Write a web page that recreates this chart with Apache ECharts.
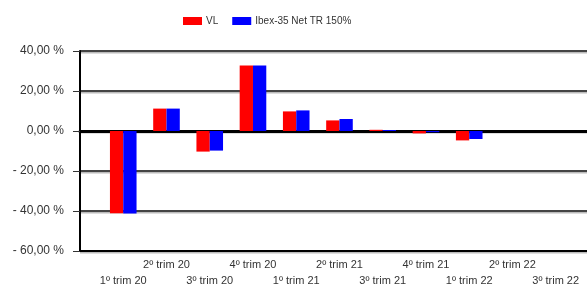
<!DOCTYPE html>
<html><head><meta charset="utf-8">
<script src="https://cdn.jsdelivr.net/npm/echarts@6/dist/echarts.min.js"></script>
<style>html,body{margin:0;padding:0;background:#fff;}#c{width:587px;height:284px;}</style>
</head><body><div id="c"></div>
<script>
var categories = ['1º trim 20','2º trim 20','3º trim 20','4º trim 20','1º trim 21','2º trim 21','3º trim 21','4º trim 21','1º trim 22','2º trim 22','3º trim 22'];
var vlValues = [-41.1, 11.2, -10.3, 32.8, 9.8, 5.3, 0.6, -1.2, -4.7, null, null];
var ibexValues = [-41.3, 11.2, -9.8, 32.8, 10.3, 6.0, 0.5, -0.6, -4.0, null, null];
var yTicks = [-60, -40, -20, 0, 20, 40];
var seriesNames = ['VL', 'Ibex-35 Net TR 150%'];

function pairs(arr){ return arr.map(function(v,i){ return [i, v]; }); }
function fmtY(v){
  var s = Math.abs(v).toFixed(2).replace('.', ',') + ' %';
  return v < 0 ? '- ' + s : s;
}
var chart = echarts.init(document.getElementById('c'), null, {renderer:'canvas'});
var xMin = -1, xMax = 10.77;
chart.setOption({
  animation: false,
  textStyle: {fontFamily: 'Liberation Sans, Arial, sans-serif'},
  legend: {
    left: 178, top: 11, itemWidth: 19, itemHeight: 8, itemGap: 14,
    textStyle: {fontSize: 10, color: '#333', padding: [0,0,0,-1]},
    icon: 'rect',
    data: seriesNames
  },
  grid: {left: 80, right: -2, top: 51, bottom: 33, containLabel: false, outerBoundsMode: 'none'},
  xAxis: [{
    type: 'value', min: xMin, max: xMax, interval: 1,
    axisLine: {show: true, onZero: false, lineStyle: {color: '#000', width: 2}},
    axisTick: {show: false},
    splitLine: {show: false},
    axisLabel: {
      fontSize: 11, color: '#333', margin: 6, lineHeight: 16, showMaxLabel: false,
      formatter: function(v){
        var i = Math.round(v);
        if (i < 0 || i >= categories.length) return '';
        return (i % 2 === 0 ? '\n' : '') + categories[i];
      }
    }
  },{
    type: 'value', position: 'top', min: xMin, max: xMax, interval: 1,
    axisLine: {show: true, lineStyle: {color: '#000', width: 3}},
    axisTick: {show: false}, axisLabel: {show: false}, splitLine: {show: false}
  }],
  yAxis: {
    type: 'value', min: yTicks[0], max: yTicks[yTicks.length-1], interval: 20,
    axisLine: {show: true, onZero: false, lineStyle: {color: '#000', width: 2}},
    axisTick: {show: true, length: 7, lineStyle: {color: '#333', width: 1}},
    axisLabel: {fontSize: 12, color: '#333', margin: 16, formatter: fmtY},
    splitLine: {show: true, lineStyle: {color: '#444', width: 2, shadowColor: '#bbb', shadowOffsetY: 1.5}}
  },
  series: [{
    name: seriesNames[0], type: 'bar', data: pairs(vlValues), barWidth: 13.3, barGap: '0%',
    itemStyle: {color: '#ff0000'}
  },{
    name: seriesNames[1], type: 'bar', data: pairs(ibexValues), barWidth: 13.3, barGap: '0%',
    itemStyle: {color: '#0000ff'}
  }]
});
</script></body></html>
